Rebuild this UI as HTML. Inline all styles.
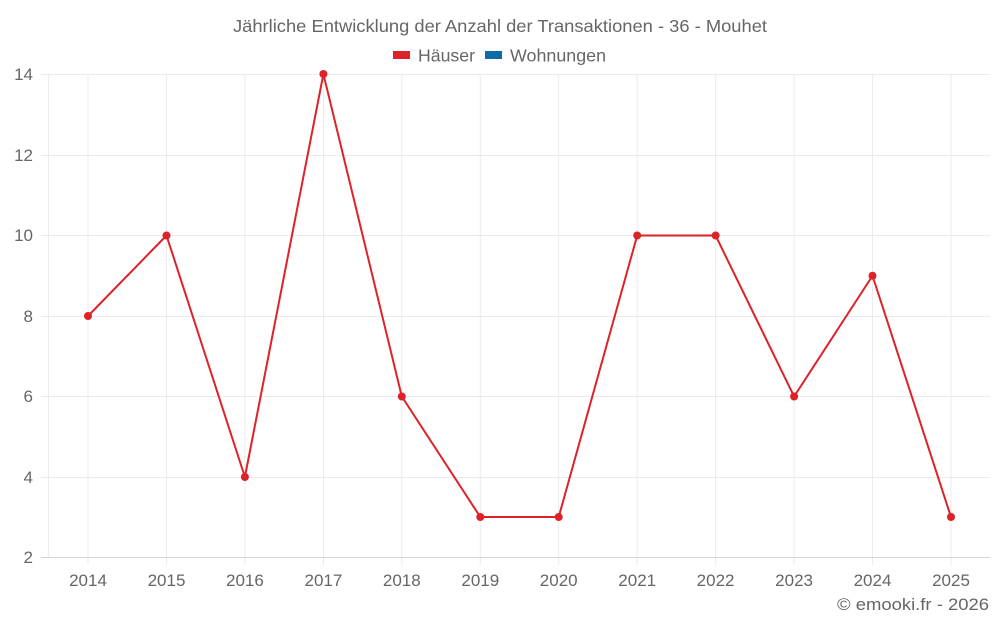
<!DOCTYPE html>
<html>
<head>
<meta charset="utf-8">
<style>
html,body{margin:0;padding:0;background:#fff;}
svg{display:block;}
text{font-family:"Liberation Sans",Arial,sans-serif;fill:#666;}
</style>
</head>
<body>
<svg width="1000" height="625" viewBox="0 0 1000 625" xmlns="http://www.w3.org/2000/svg">
<rect width="1000" height="625" fill="#fff"/>
<!-- title -->
<text x="500" y="32" font-size="17.5" text-anchor="middle" textLength="534" lengthAdjust="spacingAndGlyphs">Jährliche Entwicklung der Anzahl der Transaktionen - 36 - Mouhet</text>
<!-- legend -->
<rect x="393" y="51" width="17" height="8" fill="#dd2228"/>
<text x="418" y="61.5" font-size="17.5" textLength="57" lengthAdjust="spacingAndGlyphs">Häuser</text>
<rect x="485" y="51" width="17" height="8" fill="#0b6aa8"/>
<text x="510" y="61.5" font-size="17.5" textLength="96" lengthAdjust="spacingAndGlyphs">Wohnungen</text>
<!-- horizontal gridlines -->
<g stroke="#ebebeb" stroke-width="1">
<line x1="41" y1="74.5" x2="990" y2="74.5"/>
<line x1="41" y1="155.5" x2="990" y2="155.5"/>
<line x1="41" y1="235.5" x2="990" y2="235.5"/>
<line x1="41" y1="316.5" x2="990" y2="316.5"/>
<line x1="41" y1="396.5" x2="990" y2="396.5"/>
<line x1="41" y1="477.5" x2="990" y2="477.5"/>
</g>
<!-- vertical gridlines -->
<g stroke="#ebebeb" stroke-width="1">
<line x1="48.5" y1="74" x2="48.5" y2="557"/>
<line x1="88" y1="74" x2="88" y2="565"/>
<line x1="166.5" y1="74" x2="166.5" y2="565"/>
<line x1="244.9" y1="74" x2="244.9" y2="565"/>
<line x1="323.4" y1="74" x2="323.4" y2="565"/>
<line x1="401.8" y1="74" x2="401.8" y2="565"/>
<line x1="480.3" y1="74" x2="480.3" y2="565"/>
<line x1="558.7" y1="74" x2="558.7" y2="565"/>
<line x1="637.2" y1="74" x2="637.2" y2="565"/>
<line x1="715.6" y1="74" x2="715.6" y2="565"/>
<line x1="794.1" y1="74" x2="794.1" y2="565"/>
<line x1="872.5" y1="74" x2="872.5" y2="565"/>
<line x1="951" y1="74" x2="951" y2="565"/>
</g>
<!-- x axis -->
<line x1="41" y1="557.5" x2="990" y2="557.5" stroke="#d6d6d6" stroke-width="1"/>
<!-- y labels -->
<g font-size="17" text-anchor="end">
<text x="33" y="80">14</text>
<text x="33" y="161">12</text>
<text x="33" y="241">10</text>
<text x="33" y="322">8</text>
<text x="33" y="402">6</text>
<text x="33" y="483">4</text>
<text x="33" y="563">2</text>
</g>
<!-- x labels -->
<g font-size="17" text-anchor="middle">
<text x="88" y="586">2014</text>
<text x="166.5" y="586">2015</text>
<text x="244.9" y="586">2016</text>
<text x="323.4" y="586">2017</text>
<text x="401.8" y="586">2018</text>
<text x="480.3" y="586">2019</text>
<text x="558.7" y="586">2020</text>
<text x="637.2" y="586">2021</text>
<text x="715.6" y="586">2022</text>
<text x="794.1" y="586">2023</text>
<text x="872.5" y="586">2024</text>
<text x="951" y="586">2025</text>
</g>
<!-- series -->
<polyline fill="none" stroke="#dd2228" stroke-width="2" stroke-linejoin="round"
points="88,316 166.5,235.5 244.9,477 323.4,74 401.8,396.5 480.3,517 558.7,517 637.2,235.5 715.6,235.5 794.1,396.5 872.5,275.75 951,517"/>
<g fill="#dd2228">
<circle cx="88" cy="316" r="4"/>
<circle cx="166.5" cy="235.5" r="4"/>
<circle cx="244.9" cy="477" r="4"/>
<circle cx="323.4" cy="74" r="4"/>
<circle cx="401.8" cy="396.5" r="4"/>
<circle cx="480.3" cy="517" r="4"/>
<circle cx="558.7" cy="517" r="4"/>
<circle cx="637.2" cy="235.5" r="4"/>
<circle cx="715.6" cy="235.5" r="4"/>
<circle cx="794.1" cy="396.5" r="4"/>
<circle cx="872.5" cy="275.75" r="4"/>
<circle cx="951" cy="517" r="4"/>
</g>
<!-- credit -->
<text x="989" y="610" font-size="17" text-anchor="end" textLength="152" lengthAdjust="spacingAndGlyphs">© emooki.fr - 2026</text>
</svg>
</body>
</html>
